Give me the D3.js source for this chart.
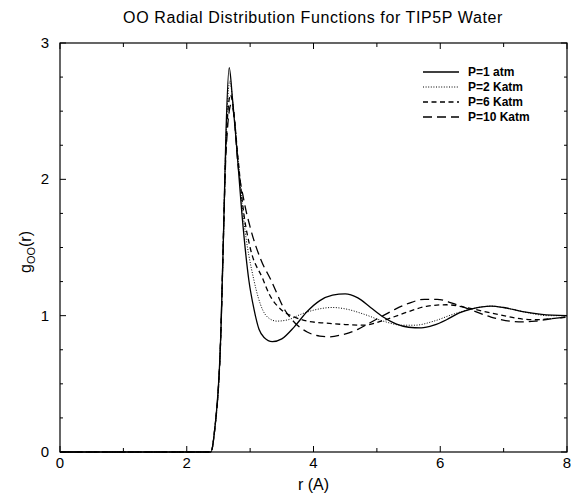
<!DOCTYPE html>
<html><head><meta charset="utf-8">
<script src="https://cdn.jsdelivr.net/npm/d3@7"></script>
<style>body{margin:0;background:#fff}svg{display:block}text{font-family:"Liberation Sans",Arial,sans-serif;fill:#000}</style>
</head><body><svg id="c" width="571" height="496"></svg>
<script>
const title = "OO Radial Distribution Functions for TIP5P Water";
const seriesNames = ["P=1 atm", "P=2 Katm", "P=6 Katm", "P=10 Katm"];
const xTicks = [0, 2, 4, 6, 8];
const yTicks = [0, 1, 2, 3];

const r1 = [0, 2.38, 2.44, 2.54, 2.58, 2.62, 2.67, 2.72, 2.78, 2.87, 2.98, 3.06, 3.14, 3.22, 3.35, 3.5, 3.7, 3.9, 4.1, 4.3, 4.5, 4.7, 4.9, 5.1, 5.3, 5.5, 5.7, 5.9, 6.1, 6.3, 6.5, 6.8, 7.0, 7.3, 7.6, 8.0];
const g1 = [0, 0, 0.16, 0.9, 1.6, 2.36, 2.82, 2.6, 2.28, 1.75, 1.26, 1.05, 0.9, 0.84, 0.81, 0.83, 0.92, 1.03, 1.11, 1.15, 1.16, 1.13, 1.06, 0.99, 0.94, 0.915, 0.91, 0.93, 0.97, 1.02, 1.05, 1.07, 1.06, 1.03, 1.01, 1.0];

const r2 = [0, 2.38, 2.44, 2.54, 2.58, 2.62, 2.68, 2.73, 2.78, 2.9, 3.06, 3.2, 3.3, 3.42, 3.6, 3.8, 4.0, 4.3, 4.5, 4.8, 5.1, 5.4, 5.6, 5.9, 6.2, 6.5, 6.8, 7.1, 7.4, 7.7, 8.0];
const g2 = [0, 0, 0.16, 0.9, 1.6, 2.3, 2.72, 2.55, 2.3, 1.7, 1.26, 1.04, 0.98, 0.96, 0.97, 1.01, 1.04, 1.06, 1.05, 1.01, 0.96, 0.93, 0.93, 0.96, 1.01, 1.05, 1.07, 1.05, 1.02, 1.0, 1.0];

const r6 = [0, 2.38, 2.44, 2.54, 2.58, 2.62, 2.69, 2.74, 2.8, 2.9, 3.0, 3.2, 3.3, 3.5, 3.7, 3.9, 4.2, 4.5, 4.8, 5.0, 5.2, 5.5, 5.8, 6.1, 6.4, 6.7, 7.0, 7.3, 7.5, 7.8, 8.0];
const g6 = [0, 0, 0.16, 0.9, 1.6, 2.25, 2.62, 2.5, 2.2, 1.75, 1.5, 1.27, 1.16, 1.04, 0.99, 0.96, 0.945, 0.935, 0.93, 0.95, 0.98, 1.03, 1.07, 1.08, 1.06, 1.03, 1.0, 0.975, 0.97, 0.98, 0.99];

const r10 = [0, 2.38, 2.44, 2.54, 2.58, 2.62, 2.7, 2.75, 2.8, 2.9, 3.0, 3.17, 3.33, 3.55, 3.7, 3.9, 4.1, 4.25, 4.45, 4.7, 4.9, 5.1, 5.3, 5.5, 5.75, 5.95, 6.2, 6.5, 6.8, 7.1, 7.3, 7.5, 7.8, 8.0];
const g10 = [0, 0, 0.16, 0.9, 1.6, 2.2, 2.55, 2.45, 2.15, 1.85, 1.65, 1.41, 1.26, 1.04, 0.95, 0.88, 0.85, 0.845, 0.86, 0.9, 0.95, 1.0, 1.05, 1.09, 1.12, 1.12, 1.09, 1.04, 0.99, 0.96, 0.955, 0.96, 0.98, 0.99];

const series = [
  {name: seriesNames[0], r: r1, g: g1, dash: null},
  {name: seriesNames[1], r: r2, g: g2, dash: "1,1.6"},
  {name: seriesNames[2], r: r6, g: g6, dash: "5,3.5"},
  {name: seriesNames[3], r: r10, g: g10, dash: "9,5"}
];

const svg = d3.select("#c");
const L = 60, R = 567, T = 43, B = 452;
const x = d3.scaleLinear().domain([0, 8]).range([L, R]);
const y = d3.scaleLinear().domain([0, 3]).range([B, T]);

svg.append("text").attr("x", 313).attr("y", 23).attr("text-anchor", "middle")
  .style("font-size", "16px").style("letter-spacing", "0.6px").text(title);

svg.append("rect").attr("x", L).attr("y", T).attr("width", R - L).attr("height", B - T)
  .attr("fill", "none").attr("stroke", "#000").attr("stroke-width", 1.2);

const xAll = d3.range(0, 8.01, 1);
const yAll = d3.range(0, 3.01, 0.25);
const tk = svg.append("g").attr("stroke", "#000").attr("stroke-width", 1);
xAll.forEach(v => {
  const len = (v % 2 === 0) ? 6 : 4;
  tk.append("line").attr("x1", x(v)).attr("x2", x(v)).attr("y1", B).attr("y2", B - len);
  tk.append("line").attr("x1", x(v)).attr("x2", x(v)).attr("y1", T).attr("y2", T + len);
});
yAll.forEach(v => {
  const len = (Math.abs(v - Math.round(v)) < 1e-6) ? 6 : 3;
  tk.append("line").attr("x1", L).attr("x2", L + len).attr("y1", y(v)).attr("y2", y(v));
  tk.append("line").attr("x1", R).attr("x2", R - len).attr("y1", y(v)).attr("y2", y(v));
});

xTicks.forEach(v => {
  svg.append("text").attr("x", x(v)).attr("y", B + 16).attr("text-anchor", "middle")
    .style("font-size", "15px").text(v);
});
yTicks.forEach(v => {
  svg.append("text").attr("x", L - 11).attr("y", y(v) + 5).attr("text-anchor", "end")
    .style("font-size", "15px").text(v);
});

svg.append("text").attr("x", x(4)).attr("y", 490).attr("text-anchor", "middle")
  .style("font-size", "16px").text("r (A)");

const yl = svg.append("text").attr("transform", "translate(31," + 252 + ") rotate(-90)")
  .attr("text-anchor", "middle").style("font-size", "16px");
yl.append("tspan").text("g");
yl.append("tspan").attr("dy", 4).style("font-size", "11px").text("OO");
yl.append("tspan").attr("dy", -4).text("(r)");

const line = d3.line().x(d => x(d[0])).y(d => y(d[1])).curve(d3.curveMonotoneX);
series.forEach(s => {
  const pts = s.r.map((rv, i) => [rv, s.g[i]]);
  svg.append("path").attr("d", line(pts)).attr("fill", "none").attr("stroke", "#000")
    .attr("stroke-width", s.dash === "1,1.6" ? 1 : 1.3)
    .attr("stroke-dasharray", s.dash);
});

const lg = svg.append("g");
series.forEach((s, i) => {
  const yy = 72 + i * 15;
  lg.append("line").attr("x1", 423).attr("x2", 459).attr("y1", yy).attr("y2", yy)
    .attr("stroke", "#000").attr("stroke-width", s.dash === "1,1.6" ? 1 : 1.3).attr("stroke-dasharray", s.dash);
  lg.append("text").attr("x", 468).attr("y", yy + 4).style("font-size", "12px").style("font-weight", "bold").text(s.name);
});
</script></body></html>
